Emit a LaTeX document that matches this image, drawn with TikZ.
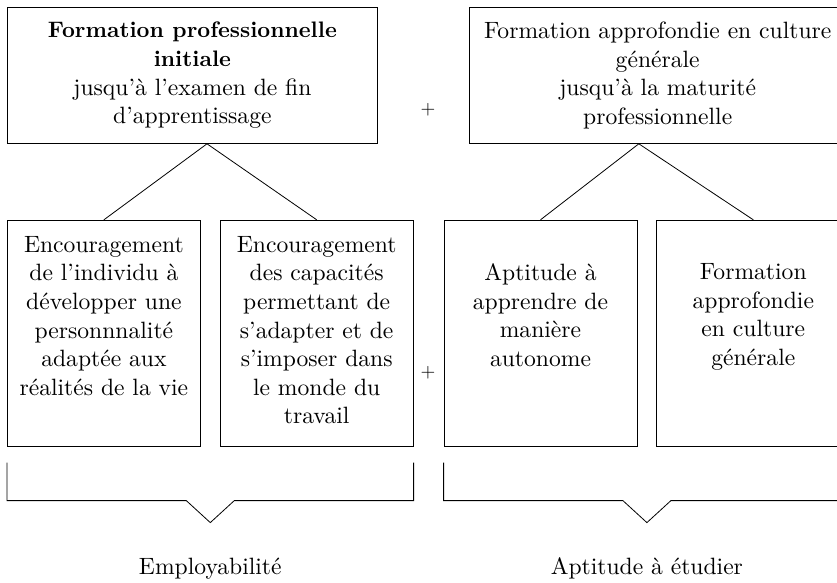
\documentclass[tikz,border=0pt]{standalone}
\usepackage{fontspec}
\setmainfont{lmroman10-regular}[Extension=.otf, BoldFont=lmroman10-bold, ItalicFont=lmroman10-italic]
\usepackage{tikz}
\usetikzlibrary{calc, positioning}

\newcommand{\leaftext}[2][0pt]{\parbox[c][194pt][t]{185pt}{\centering\vspace*{#1}#2}}
\newcommand{\boldline}[1]{{\fontsize{22.4}{28.6}\selectfont\bfseries #1}}

\begin{document}
\begin{tikzpicture}[
    x=1pt, y=-1pt,
    line width=0.8pt,
    every node/.style={font=\fontsize{23.6}{28.6}\selectfont},
    topbox/.style={rectangle, draw, minimum height=136pt, align=center, anchor=north west},
    leaf/.style={rectangle, draw, minimum width=193pt, minimum height=226pt, inner sep=0pt},
    plus/.style={font=\fontsize{19}{20}\selectfont}
]
    \useasboundingbox (0,0) rectangle (837,582);

    % boîtes du haut
    \node[topbox, minimum width=370pt] (fpi) at (7,7) {\boldline{Formation professionnelle}\\\boldline{initiale}\\jusqu’à l’examen de fin\\d’apprentissage};
    \node[topbox, minimum width=377pt, right=91pt of fpi] (fac) {Formation approfondie en culture\\générale\\jusqu’à la maturité\\professionnelle};

    % boîtes du bas
    \node[leaf, below=76pt of fpi.south west, anchor=north west] (indiv) {\leaftext{Encouragement\\de l’individu à\\développer une\\personnnalité\\adaptée aux\\réalités de la vie}};
    \node[leaf, right=19pt of indiv] (capac) {\leaftext{Encouragement\\des capacités\\permettant de\\s’adapter et de\\s’imposer dans\\le monde du\\travail}};
    \node[leaf, right=30pt of capac] (autonome) {\leaftext[27.5pt]{Aptitude à\\apprendre de\\manière\\autonome}};
    \node[leaf, right=19pt of autonome] (culture) {\leaftext[27.5pt]{Formation\\approfondie\\en culture\\générale}};

    % signes plus
    \node[plus] (plus top) at (428,110) {+};
    \node[plus] (plus bottom) at (428,373) {+};

    % liaisons
    \coordinate (fpi apex) at ($(fpi.south west)+(200,0)$);
    \coordinate (fac apex) at ($(fac.south west)+(170,0)$);
    \draw (fpi apex) -- (indiv.north);
    \draw (fpi apex) -- (capac.north);
    \draw (fac apex) -- (autonome.north);
    \draw (fac apex) -- (culture.north);

    % accolades
    \coordinate (empl tip) at ($(indiv.south west)!0.5!(capac.south east)+(0,76)$);
    \coordinate (etud tip) at ($(autonome.south west)!0.5!(culture.south east)+(0,76)$);
    \draw ($(indiv.south west)+(0,16)$) -- ++(0,38) -- ($(empl tip)+(-24,-22)$) -- (empl tip) -- ++(24,-22) -| ($(capac.south east)+(0,16)$);
    \draw ($(autonome.south west)+(0,16)$) -- ++(0,38) -- ($(etud tip)+(-24,-22)$) -- (etud tip) -- ++(24,-22) -| ($(culture.south east)+(0,16)$);

    % résultats
    \node[anchor=base] (empl) at ($(empl tip)+(0,52)$) {Employabilité};
    \node[anchor=base] (etud) at ($(etud tip)+(0,52)$) {Aptitude à étudier};
\end{tikzpicture}
\end{document}
